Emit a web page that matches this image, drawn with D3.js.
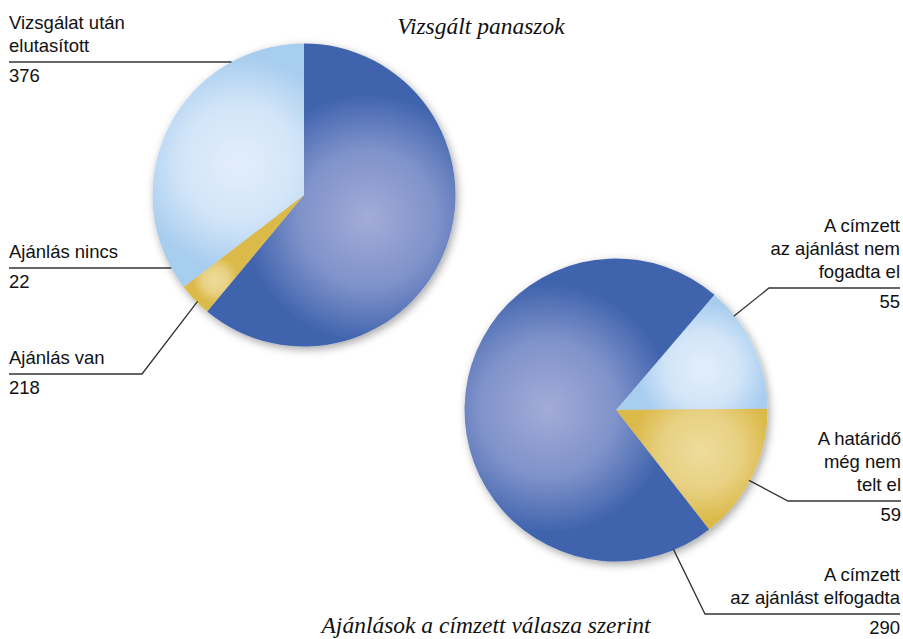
<!DOCTYPE html>
<html>
<head>
<meta charset="utf-8">
<script src="https://cdn.jsdelivr.net/npm/d3@7"></script>
<style>
  body { margin: 0; background: #fff; }
  .lbl { font-family: "Liberation Sans", Arial, sans-serif; font-size: 18.5px; fill: #111; }
  .title { font-family: "Liberation Serif", "Times New Roman", serif; font-style: italic; font-size: 23.5px; fill: #111; }
  .leader { fill: none; stroke: #333; stroke-width: 1.3; }
</style>
</head>
<body>
<svg id="chart"></svg>
<script>
var width = 903, height = 639;

// Vizsgált panaszok
var pie1Categories = ["Vizsgálat után elutasított", "Ajánlás nincs", "Ajánlás van"];
var pie1Values = [376, 22, 218];
var pie1LabelLines = [["Vizsgálat után", "elutasított"], ["Ajánlás nincs"], ["Ajánlás van"]];

// Ajánlások a címzett válasza szerint
var pie2Categories = ["A címzett az ajánlást nem fogadta el", "A határidő még nem telt el", "A címzett az ajánlást elfogadta"];
var pie2Values = [55, 59, 290];
var pie2LabelLines = [["A címzett", "az ajánlást nem", "fogadta el"], ["A határidő", "még nem", "telt el"], ["A címzett", "az ajánlást elfogadta"]];

var shades = {
    dark:   ["#a3acd8", "#7f92ca", "#3f63ad"],
    light:  ["#e3eefb", "#d2e5f8", "#a7cdef"],
    yellow: ["#eedc9c", "#e8d183", "#dcba4a"]
};

var svg = d3.select("#chart")
    .attr("width", width)
    .attr("height", height);

var defs = svg.append("defs");

var shadow = defs.append("filter")
    .attr("id", "shadow")
    .attr("x", "-20%").attr("y", "-20%")
    .attr("width", "140%").attr("height", "140%");
shadow.append("feDropShadow")
    .attr("dx", 2).attr("dy", 3)
    .attr("stdDeviation", 4)
    .attr("flood-color", "#000")
    .attr("flood-opacity", 0.35);

var R = 151.5;
var arc = d3.arc().innerRadius(0).outerRadius(R);

function drawPie(id, cx, cy, values, colorKeys, startDeg) {
    var pie = d3.pie().sort(null)
        .startAngle(startDeg * Math.PI / 180)
        .endAngle((startDeg + 360) * Math.PI / 180);
    var arcs = pie(values);

    var g = svg.append("g")
        .attr("transform", "translate(" + cx + "," + cy + ")");
    var shadowG = g.append("g").attr("filter", "url(#shadow)");

    arcs.forEach(function (a, i) {
        // highlight sits in the centre of the largest circle inside the slice
        var half = (a.endAngle - a.startAngle) / 2;
        var mid = a.startAngle + half;
        var s = half >= Math.PI / 2 ? 1 : Math.sin(half);
        var d = R / (1 + s), rho = R * s / (1 + s);
        var p = d3.pointRadial(mid, d * 0.9);
        var c = shades[colorKeys[i]];
        var grad = defs.append("radialGradient")
            .attr("id", id + "-g" + i)
            .attr("gradientUnits", "userSpaceOnUse")
            .attr("cx", p[0]).attr("cy", p[1])
            .attr("fx", p[0]).attr("fy", p[1])
            .attr("r", rho * (s === 1 ? 1.65 : 1.5));
        grad.append("stop").attr("offset", "0%").attr("stop-color", c[0]);
        grad.append("stop").attr("offset", "55%").attr("stop-color", c[1]);
        grad.append("stop").attr("offset", "100%").attr("stop-color", c[2]);

        shadowG.append("path")
            .attr("d", arc(a))
            .attr("fill", "url(#" + id + "-g" + i + ")");
    });
    return { cx: cx, cy: cy };
}

function drawLabels(p, lines, values, layout) {
    layout.forEach(function (L, i) {
        var pts;
        if (L.angle == null) {
            var dy = L.lineY - p.cy;
            var rimX = p.cx + L.dir * Math.sqrt(R * R - dy * dy);
            pts = [[L.x, L.lineY], [rimX, L.lineY]];
        } else {
            var rim = d3.pointRadial(L.angle * Math.PI / 180, R - 1);
            pts = [[L.x, L.lineY], [L.elbowX, L.lineY], [p.cx + rim[0], p.cy + rim[1]]];
        }
        svg.append("path")
            .attr("class", "leader")
            .attr("d", d3.line()(pts));

        var n = lines[i].length;
        svg.selectAll(null)
            .data(lines[i])
            .enter()
            .append("text")
                .attr("class", "lbl")
                .attr("text-anchor", L.anchor)
                .attr("x", L.x)
                .attr("y", function (d, j) { return L.lineY - 10 - (n - 1 - j) * 23; })
                .text(function (d) { return d; });

        svg.append("text")
            .attr("class", "lbl")
            .attr("text-anchor", L.anchor)
            .attr("x", L.x)
            .attr("y", L.lineY + 20)
            .text(values[i]);
    });
}

var p1 = drawPie("p1", 304, 195, pie1Values, ["dark", "yellow", "light"], 0);
var p2 = drawPie("p2", 616, 410, pie2Values, ["light", "yellow", "dark"], 40.5);

drawLabels(p1, pie1LabelLines, pie1Values, [
    { x: 9, anchor: "start", lineY: 62, dir: -1 },
    { x: 9, anchor: "start", lineY: 268, dir: -1 },
    { x: 9, anchor: "start", lineY: 374, elbowX: 142, angle: 225 }
]);

drawLabels(p2, pie2LabelLines, pie2Values, [
    { x: 900, anchor: "end", lineY: 288, elbowX: 769, angle: 51.5 },
    { x: 901, anchor: "end", lineY: 501, elbowX: 788, angle: 117.9 },
    { x: 900, anchor: "end", lineY: 614, elbowX: 705, angle: 157.6 }
]);

svg.append("text")
    .attr("class", "title")
    .attr("text-anchor", "middle")
    .attr("x", 481)
    .attr("y", 34)
    .text("Vizsgált panaszok");

svg.append("text")
    .attr("class", "title")
    .attr("text-anchor", "middle")
    .attr("x", 486)
    .attr("y", 633)
    .text("Ajánlások a címzett válasza szerint");
</script>
</body>
</html>
